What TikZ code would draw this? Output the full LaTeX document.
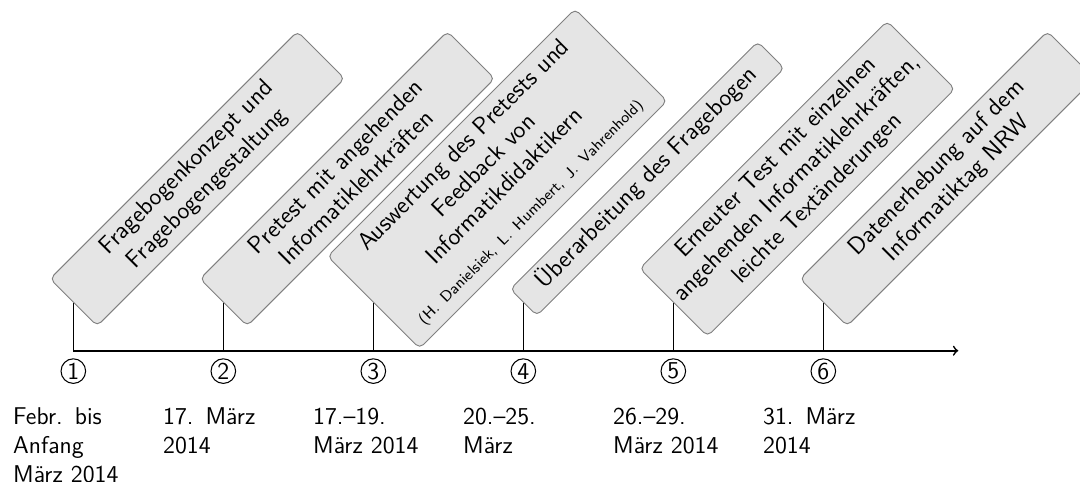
\documentclass[tikz,border=0pt]{standalone}
\usepackage{fontspec}
\begin{document}
\begin{tikzpicture}[
  x=1cm, y=1cm,
  font=\fontsize{11.5}{13.8}\selectfont\sffamily,
  phase/.style={draw=gray, line width=0.45pt, fill=gray!20,
    rounded corners=2.5pt, rotate=45, anchor=west,
    minimum width=5.83cm, text width=5.83cm-4pt, inner sep=2pt,
    align=center,
    execute at begin node=\strut, execute at end node=\strut},
  tickline/.style={line width=0.45pt},
  stepnum/.style={circle, draw, line width=0.5pt, inner sep=0pt,
    minimum size=0.41cm, font=\fontsize{11.5}{13}\selectfont\sffamily},
  datelabel/.style={anchor=base west, inner sep=0pt, text width=2.2cm,
    align=left},
  axisline/.style={line width=0.8pt, ->}
]
\useasboundingbox (-1.222,-2.188) rectangle (16.778,5.845);

% time axis
\coordinate (start) at (0,0);
\coordinate (end) at (14.75,0);
\draw[axisline] (start) -- (end);

% anchor points on the axis and at the top of each tick
\foreach \i/\x in {1/0, 2/2.5, 3/5, 4/7.5, 5/10, 6/12.5} {
  \coordinate (t\i) at (\x,0);
  \coordinate (p\i) at (\x,0.8);
  \draw[tickline] (t\i) -- (p\i);
  \node[stepnum] (n\i) at (\x,-0.34) {\i};
}

% phases
\node[phase] (b1) at (p1) {Fragebogenkonzept und\\Fragebogengestaltung};
\node[phase] (b2) at (p2) {Pretest mit angehenden\\Informatiklehrkräften};
\node[phase] (b3) at (p3) {Auswertung des Pretests und\\Feedback von\\Informatikdidaktikern\\[2.5pt]{\fontsize{7.3}{8.8}\selectfont (H. Danielsiek, L. Humbert, J. Vahrenhold)}};
\node[phase] (b4) at (p4) {Überarbeitung des Fragebogen};
\node[phase] (b5) at (p5) {Erneuter Test mit einzelnen\\angehenden Informatiklehrkräften,\\leichte Textänderungen};
\node[phase] (b6) at (p6) {Datenerhebung auf dem\\Informatiktag NRW};

% dates
\node[datelabel] (d1) at (-1.01,-1.222) {Febr. bis\\Anfang\\März 2014};
\node[datelabel] (d2) at (1.49,-1.222) {17. März\\2014};
\node[datelabel] (d3) at (3.99,-1.222) {17.–19.\\März 2014};
\node[datelabel] (d4) at (6.49,-1.222) {20.–25.\\März};
\node[datelabel] (d5) at (8.99,-1.222) {26.–29.\\März 2014};
\node[datelabel] (d6) at (11.49,-1.222) {31. März\\2014};
\end{tikzpicture}
\end{document}
